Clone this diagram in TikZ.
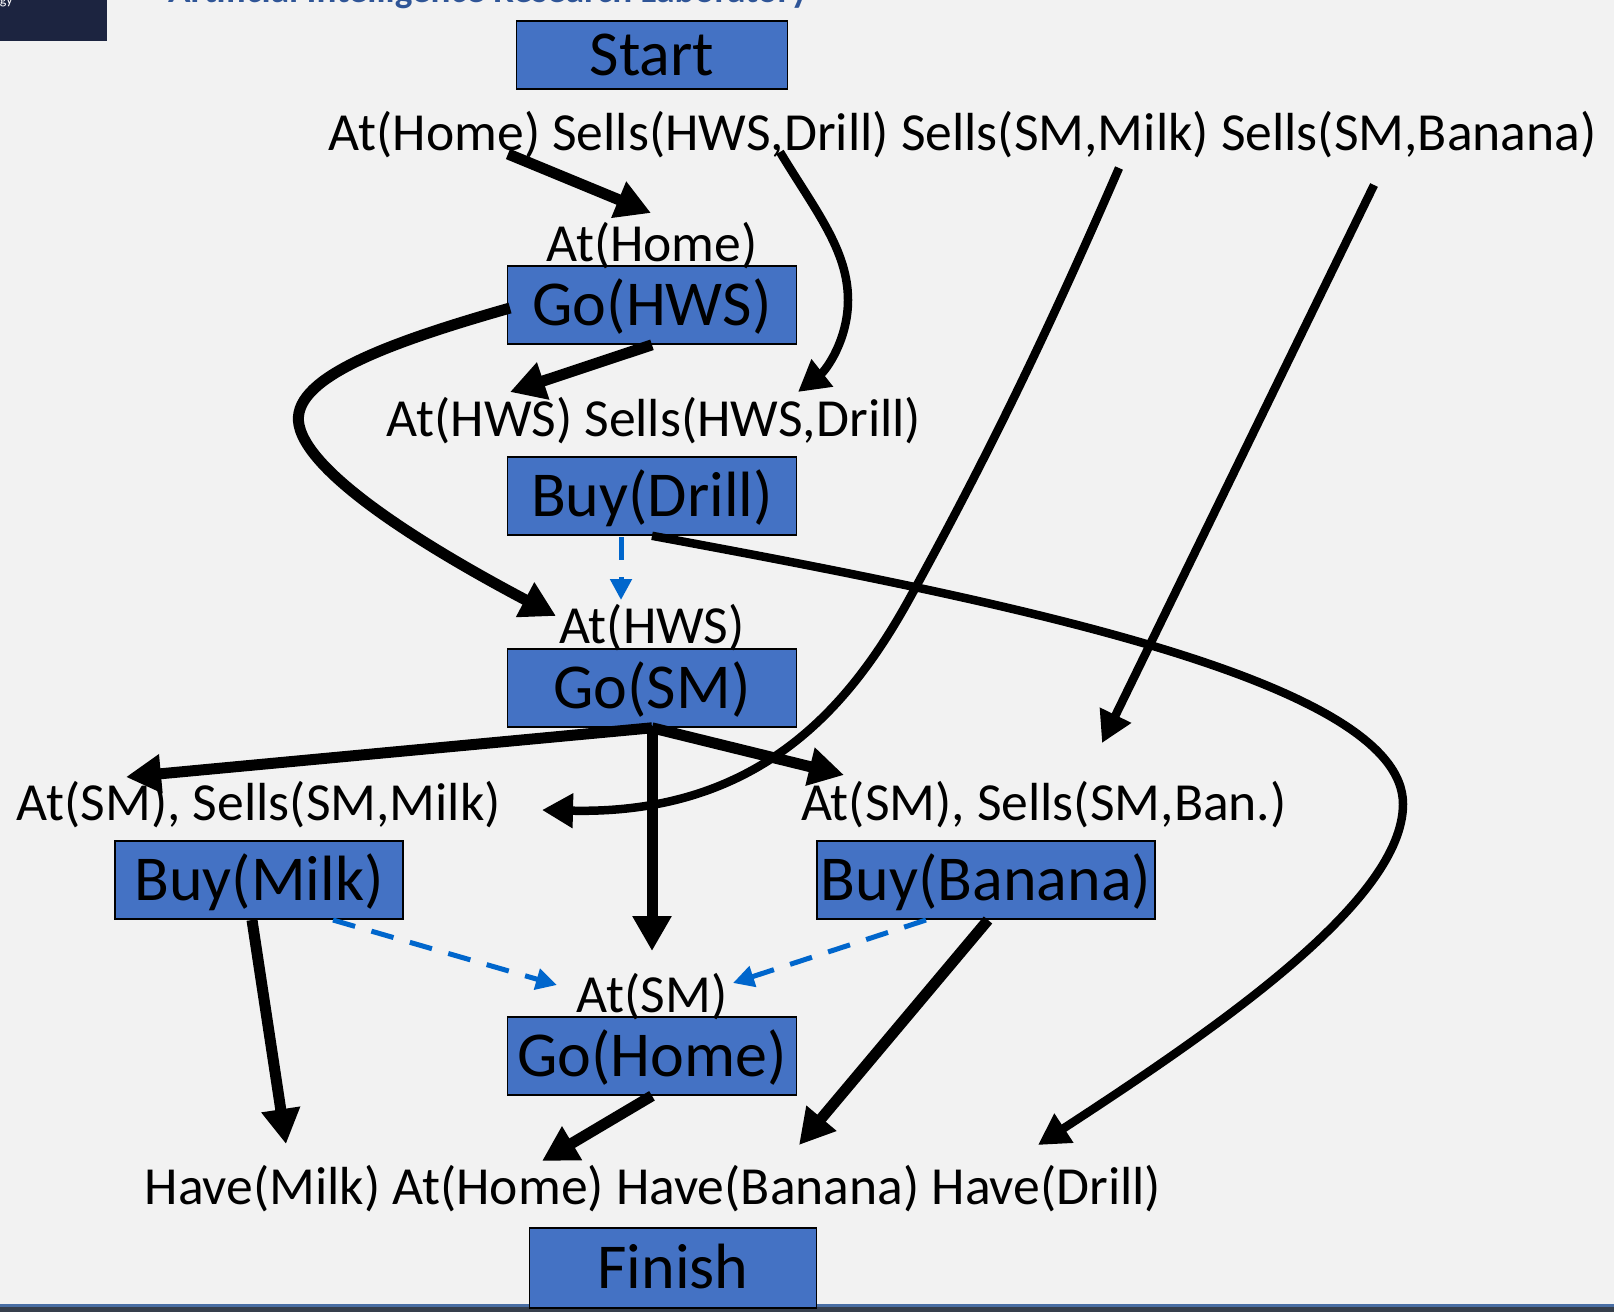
\documentclass[tikz,border=0pt]{standalone}
\usepackage{fontspec}
\setmainfont{Carlito}
\usetikzlibrary{arrows.meta}
\definecolor{bg}{HTML}{F2F2F2}
\definecolor{boxblue}{HTML}{4472C4}
\definecolor{depblue}{HTML}{0066CC}
\definecolor{navy}{HTML}{1C2440}
\definecolor{titleblue}{HTML}{2F5597}
\definecolor{bandblue}{HTML}{4A6FA5}
\definecolor{banddark}{HTML}{363F4C}
\tikzset{
  box/.style={draw=black, line width=1.6pt, fill=boxblue, inner sep=0pt,
    minimum width=289pt, minimum height=78pt,
    font=\fontsize{64}{72}\selectfont, text height=51pt, text depth=10pt},
  cond/.style={font=\fontsize{53.6}{60}\selectfont, inner sep=0pt, anchor=base},
  arr/.style={line width=11pt, -{Triangle[length=35pt,width=37pt]}},
  thinarr/.style={line width=8.5pt, -{Triangle[length=31pt,width=33pt]}},
  dep/.style={draw=depblue, line width=5pt, dash pattern=on 23pt off 17pt,
    -{Triangle[length=21pt,width=21pt]}},
}
\begin{document}
\begin{tikzpicture}[x=1pt,y=-1pt]
\useasboundingbox (0,0) rectangle (1614,1312);
\fill[bg] (0,0) rectangle (1614,1312);
% header fragments
\begin{scope}
  \clip (0,0) rectangle (107,41);
  \fill[navy] (0,0) rectangle (107,41);
  \node[anchor=base east, inner sep=0pt, text=white, font=\fontsize{14}{14}\selectfont] (logo) at (13,4) {Technology};
\end{scope}
\begin{scope}
  \clip (0,0) rectangle (1614,20);
  \node[anchor=base west, inner sep=0pt, text=titleblue] (title) at (168,2)
    {\resizebox{640pt}{!}{\bfseries Artificial Intelligence Research Laboratory}};
\end{scope}
% bottom band
\fill[bandblue] (0,1304) rectangle (1614,1307);
\fill[banddark] (0,1307) rectangle (1614,1312);

% action boxes
\node[box, minimum width=271pt, minimum height=68pt] (start) at (652,55) {Start};
\node[box] (gohws) at (652,305) {Go(HWS)};
\node[box] (buydrill) at (652,496) {Buy(Drill)};
\node[box] (gosm) at (652,688) {Go(SM)};
\node[box, minimum width=288pt] (buymilk) at (259,880) {Buy(Milk)};
\node[box, minimum width=338pt] (buyban) at (986,880) {Buy(Banana)};
\node[box] (gohome) at (652,1056) {Go(Home)};
\node[box, minimum width=287pt, minimum height=80pt] (finish) at (673,1268) {Finish};

% conditions
\node[cond] (effstart) at (963,150) {At(Home) Sells(HWS,Drill) Sells(SM,Milk) Sells(SM,Banana)};
\node[cond] (pregohws) at (652,261) {At(Home)};
\node[cond] (prebuydrill) at (654,436) {At(HWS) Sells(HWS,Drill)};
\node[cond] (pregosm) at (652,643) {At(HWS)};
\node[cond] (prebuymilk) at (259,820) {At(SM), Sells(SM,Milk)};
\node[cond] (prebuyban) at (1044,820) {At(SM), Sells(SM,Ban.)};
\node[cond] (pregohome) at (652,1012) {At(SM)};
\node[cond] (prefinish) at (653,1204) {Have(Milk) At(Home) Have(Banana) Have(Drill)};

% connector end points
\coordinate (sHome) at (508,154);
\coordinate (tHome) at (651,213);
\coordinate (sDrill) at (780,152);
\coordinate (tDrill) at (798,392);
\coordinate (sMilk) at (1119,168);
\coordinate (tMilk) at (542,810);
\coordinate (sBan) at (1374,185);
\coordinate (tBan) at (1102,743);
\coordinate (sHWSa) at (510,308);
\coordinate (tHWSa) at (556,616);
\coordinate (tHWSb) at (510,392);
\coordinate (tHWSdep) at (621,600);
\coordinate (sDrillDep) at (621,537);
\coordinate (tSMmilk) at (126,777);
\coordinate (tSMban) at (844,775);
\coordinate (tSMhome) at (652,951);
\coordinate (sMilkDep) at (333,920);
\coordinate (tMilkDep) at (557,985);
\coordinate (sBanDep) at (926,920);
\coordinate (tBanDep) at (733,983);
\coordinate (sMilkHave) at (252,920);
\coordinate (tMilkHave) at (286,1144);
\coordinate (sBanHave) at (988,920);
\coordinate (tBanHave) at (799,1145);
\coordinate (tHomeHave) at (542,1161);
\coordinate (tDrillHave) at (1038,1145);

% causal links
\draw[arr] (sHome) -- (tHome);
\draw[thinarr] (sDrill) .. controls (815,210) and (848,250) .. (848,300)
  .. controls (848,340) and (826,370) .. (tDrill);
\draw[thinarr] (sMilk) .. controls (1040,350) and (980,470) .. (912,594)
  .. controls (851,706) and (760,815) .. (tMilk);
\draw[thinarr] (sBan) -- (tBan);
\draw[arr] (sHWSa) .. controls (380,345) and (290,380) .. (299,425)
  .. controls (310,480) and (450,560) .. (tHWSa);
\draw[arr] (gohws.south) -- (tHWSb);
\draw[thinarr] (buydrill.south) .. controls (1000,600) and (1403,680) .. (1403,804)
  .. controls (1403,900) and (1222,1025) .. (tDrillHave);
\draw[arr] (gosm.south) -- (tSMmilk);
\draw[arr] (gosm.south) -- (tSMban);
\draw[arr] (gosm.south) -- (tSMhome);
\draw[arr] (sMilkHave) -- (tMilkHave);
\draw[arr] (sBanHave) -- (tBanHave);
\draw[arr] (gohome.south) -- (tHomeHave);

% ordering constraints
\draw[dep] (sDrillDep) -- (tHWSdep);
\draw[dep] (sMilkDep) -- (tMilkDep);
\draw[dep] (sBanDep) -- (tBanDep);
\end{tikzpicture}
\end{document}
